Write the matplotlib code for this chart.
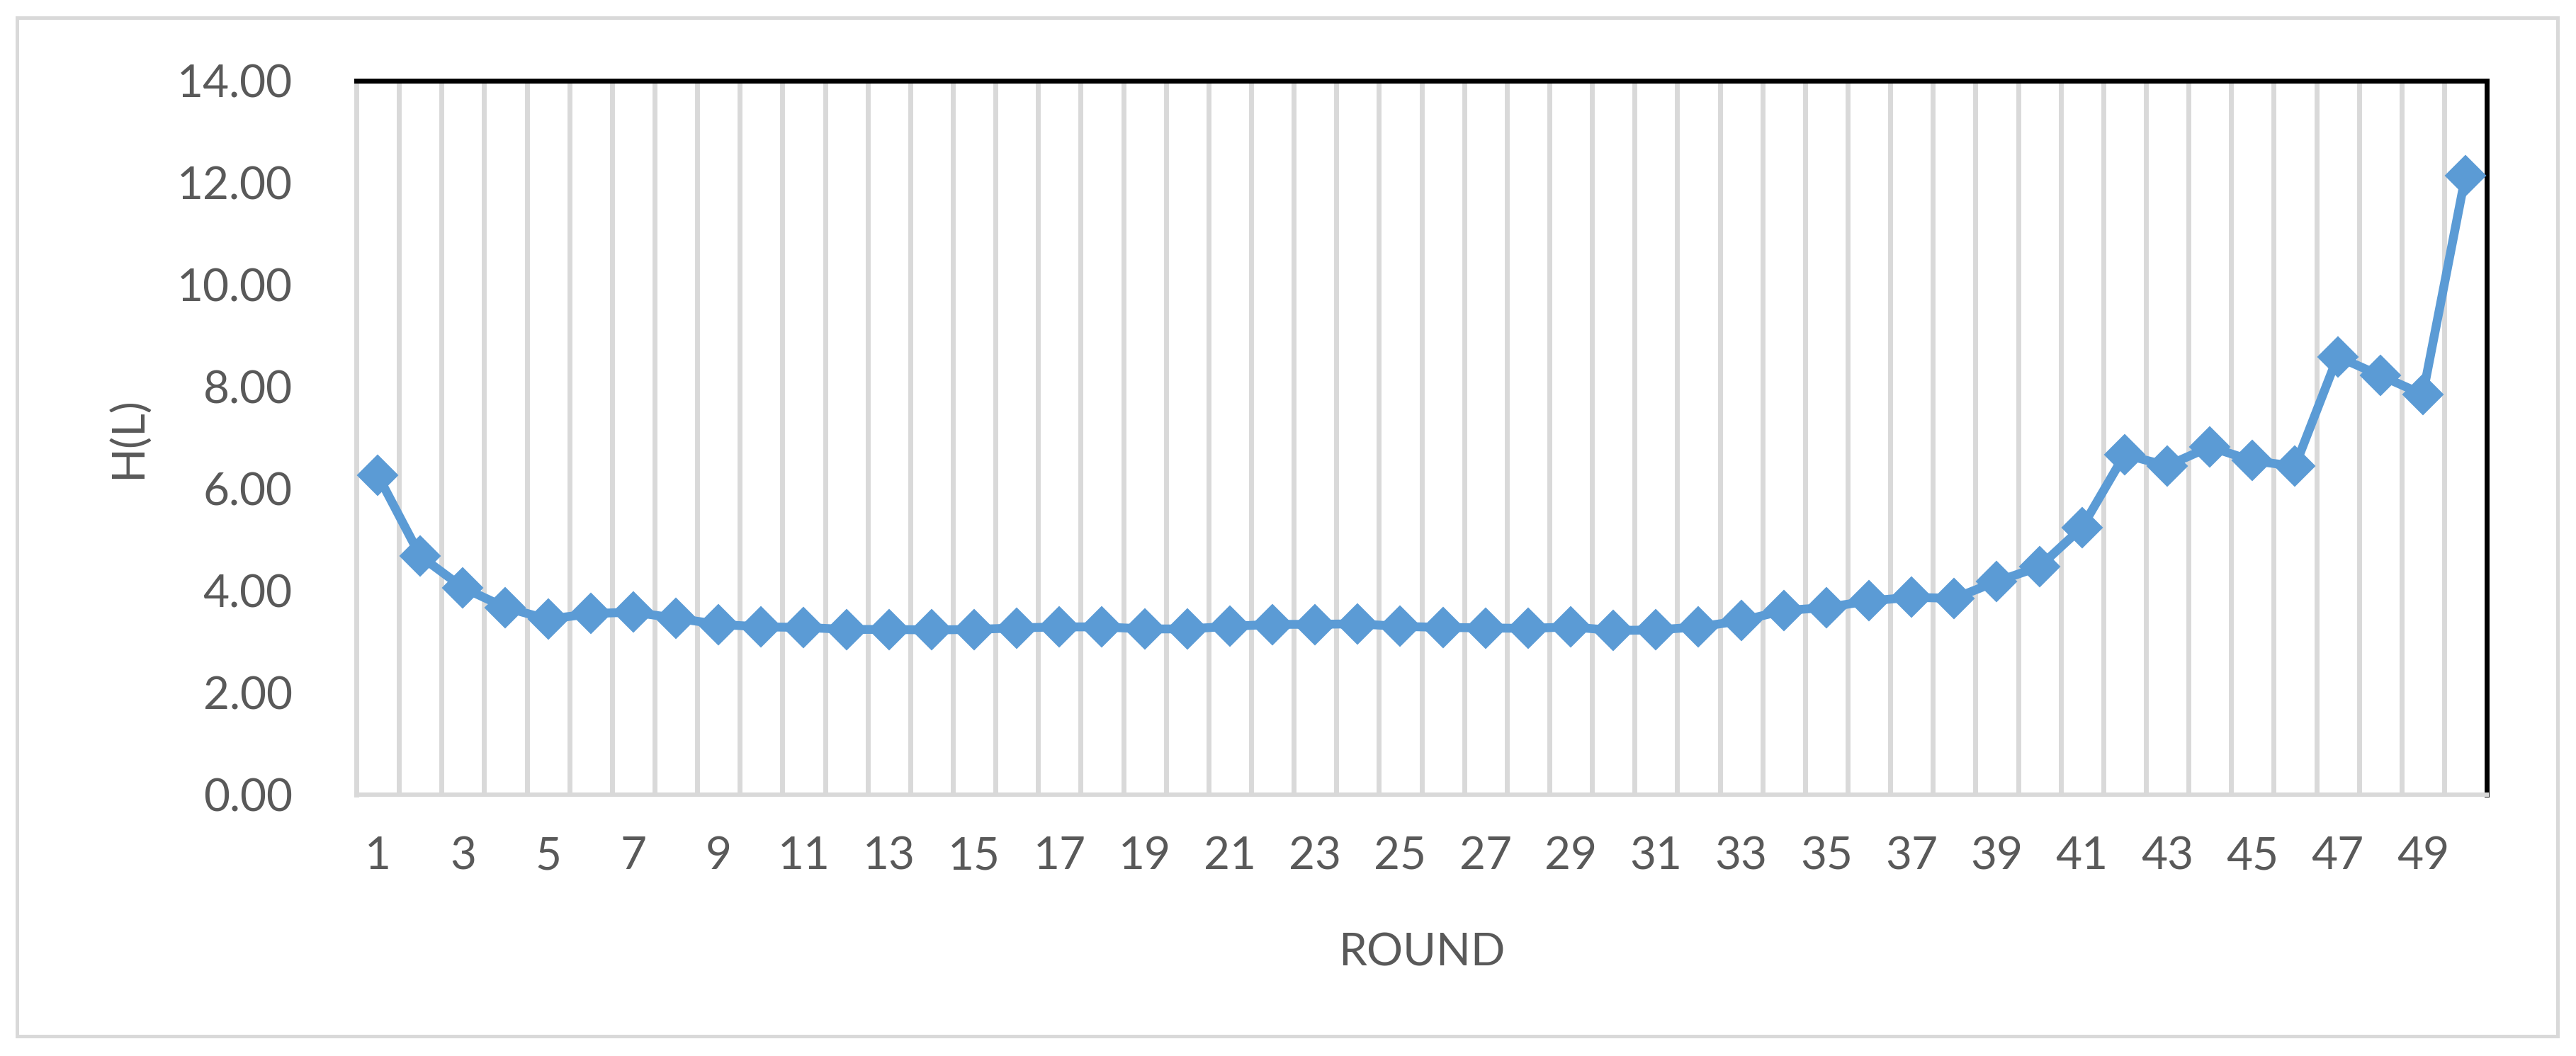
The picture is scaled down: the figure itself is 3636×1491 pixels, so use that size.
from matplotlib import pyplot as plt
from matplotlib.patches import Rectangle
from matplotlib.ticker import MultipleLocator, FixedLocator, FormatStrFormatter
import numpy as np

plt.rcParams['font.family'] = ['Lato', 'DejaVu Sans']

# data
rounds = np.arange(1, 51)
h_values = [6.27, 4.68, 4.06, 3.67, 3.44, 3.55, 3.58, 3.46, 3.34, 3.29,
            3.28, 3.24, 3.24, 3.23, 3.24, 3.27, 3.29, 3.29, 3.25, 3.25,
            3.30, 3.34, 3.34, 3.35, 3.30, 3.28, 3.27, 3.26, 3.29, 3.22,
            3.23, 3.29, 3.41, 3.61, 3.67, 3.80, 3.87, 3.85, 4.18, 4.47,
            5.24, 6.67, 6.45, 6.82, 6.55, 6.44, 8.59, 8.22, 7.85, 12.14]
x_ticks = list(range(1, 50, 2))

blue = '#5B9BD5'
grey_text = '#595959'
grid_grey = '#D9D9D9'

fig = plt.figure(figsize=(36.37, 14.91), dpi=100)
ax = fig.add_axes([0.1383, 0.2475, 0.8268, 0.6760])

# outer chart border
fig.patches.append(Rectangle((0.0066, 0.0188), 0.9860, 0.9644, transform=fig.transFigure,
                             fill=False, edgecolor=grid_grey, linewidth=3.6))

ax.plot(rounds, h_values, color=blue, linewidth=9, marker='D', markersize=29,
        markeredgewidth=1.5, markeredgecolor=blue, zorder=3, clip_on=False)

ax.set_xlim(0.5, 50.5)
ax.set_ylim(0, 14)
ax.yaxis.set_major_locator(MultipleLocator(2))
ax.yaxis.set_major_formatter(FormatStrFormatter('%.2f'))
ax.set_xticks(x_ticks)
ax.set_xticklabels([str(t) for t in x_ticks])
ax.xaxis.set_minor_locator(FixedLocator(np.arange(1.5, 50.5, 1)))
ax.grid(which='minor', axis='x', color=grid_grey, linewidth=5, zorder=1)

ax.tick_params(axis='both', which='both', length=0, labelsize=46, colors=grey_text)
ax.tick_params(axis='y', pad=65)
ax.tick_params(axis='x', pad=42)

ax.spines['left'].set_color(grid_grey)
ax.spines['left'].set_linewidth(5)
ax.spines['bottom'].set_color(grid_grey)
ax.spines['bottom'].set_linewidth(4.5)
ax.spines['top'].set_color('black')
ax.spines['top'].set_linewidth(5)
ax.spines['right'].set_color('black')
ax.spines['right'].set_linewidth(5)

ax.set_xlabel('ROUND', fontsize=46, color=grey_text)
ax.set_ylabel('H(L)', fontsize=46, color=grey_text, va='center')
ax.xaxis.set_label_coords(0.5, -0.193)
ax.yaxis.set_label_coords(-0.107, 0.5)

fig.savefig('out.png', dpi=100)
